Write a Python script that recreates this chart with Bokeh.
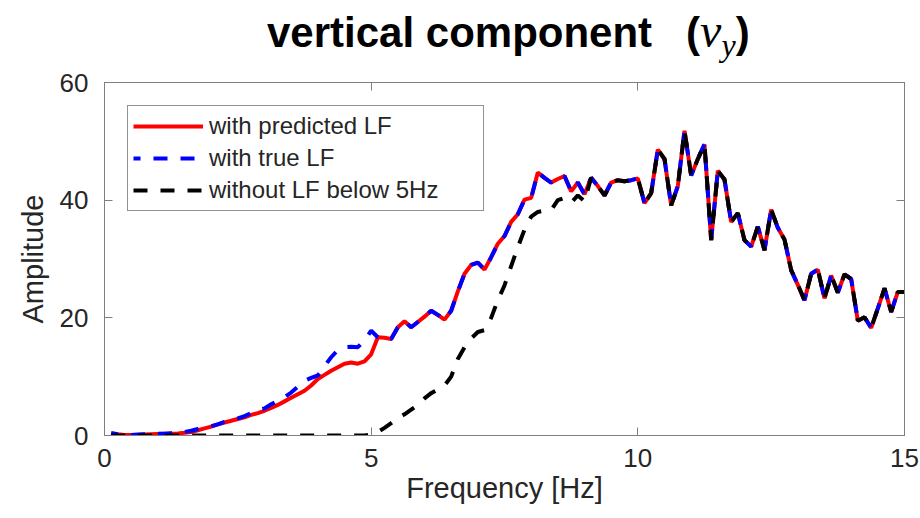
from bokeh.plotting import figure
from bokeh.models import Range1d, LinearAxis, Legend, LegendItem, Div
from bokeh.layouts import column
from bokeh.embed import file_html
from bokeh.resources import INLINE

# ---------------- data ----------------
freq_hz = [
    0.125, 0.25, 0.375, 0.5, 0.625, 0.75, 0.875, 1.0, 1.125, 1.25,
    1.375, 1.5, 1.625, 1.75, 1.875, 2.0, 2.125, 2.25, 2.375, 2.5,
    2.625, 2.75, 2.875, 3.0, 3.125, 3.25, 3.375, 3.5, 3.625, 3.75,
    3.875, 4.0, 4.125, 4.25, 4.375, 4.5, 4.625, 4.75, 4.875, 5.0,
    5.125, 5.25, 5.375, 5.5, 5.625, 5.75, 5.875, 6.0, 6.125, 6.25,
    6.375, 6.5, 6.625, 6.75, 6.875, 7.0, 7.125, 7.25, 7.375, 7.5,
    7.625, 7.75, 7.875, 8.0, 8.125, 8.25, 8.375, 8.5, 8.625, 8.75,
    8.875, 9.0, 9.125, 9.25, 9.375, 9.5, 9.625, 9.75, 9.875, 10.0,
    10.125, 10.25, 10.375, 10.5, 10.625, 10.75, 10.875, 11.0, 11.125, 11.25,
    11.375, 11.5, 11.625, 11.75, 11.875, 12.0, 12.125, 12.25, 12.375, 12.5,
    12.625, 12.75, 12.875, 13.0, 13.125, 13.25, 13.375, 13.5, 13.625, 13.75,
    13.875, 14.0, 14.125, 14.25, 14.375, 14.5, 14.625, 14.75, 14.875, 15.0,
]

amp_predicted_lf = [
    0.4, 0.2, 0.1, 0.1, 0.1, 0.15, 0.2, 0.25, 0.3, 0.3,
    0.35, 0.45, 0.6, 0.9, 1.2, 1.5, 1.9, 2.2, 2.5, 2.8,
    3.1, 3.5, 3.8, 4.2, 4.7, 5.2, 5.8, 6.4, 7.0, 7.6,
    8.5, 9.6, 10.3, 11.0, 11.6, 12.2, 12.4, 12.2, 12.6, 13.8,
    16.7, 16.6, 16.4, 18.4, 19.4, 18.4, 19.3, 20.2, 21.2, 20.5,
    19.7, 21.2, 24.5, 27.5, 29.0, 29.4, 28.2, 30.3, 32.6, 33.9,
    36.3, 37.6, 40.1, 40.4, 44.7, 43.8, 43.0, 43.6, 44.1, 41.5,
    43.0, 41.0, 43.8, 42.4, 40.8, 43.0, 43.4, 43.2, 43.4, 43.7,
    39.5, 41.2, 48.6, 47.0, 39.1, 42.4, 51.8, 44.2, 47.0, 49.5,
    33.2, 45.0, 43.5, 36.3, 37.8, 33.2, 32.1, 35.5, 31.5, 38.4,
    35.3, 33.3, 28.1, 25.6, 23.0, 27.5, 28.2, 23.3, 27.2, 24.3,
    27.4, 26.6, 19.5, 20.1, 18.3, 21.6, 25.0, 21.0, 24.4, 24.4,
]

# "with true LF" differs from the prediction only up to 5 Hz
amp_true_lf_to_5hz = [
    0.4, 0.2, 0.1, 0.1, 0.15, 0.2, 0.2, 0.3, 0.3, 0.4,
    0.45, 0.6, 0.8, 1.1, 1.4, 1.6, 1.9, 2.3, 2.6, 2.9,
    3.3, 3.8, 4.3, 4.6, 5.3, 5.9, 6.5, 7.3, 8.3, 9.3,
    9.8, 10.2, 11.8, 13.3, 14.5, 15.0, 15.1, 15.0, 16.2, 17.8,
]

# "without LF below 5Hz" differs from the prediction up to 9 Hz
amp_without_lf_to_9hz = [
    0.0, 0.0, 0.0, 0.0, 0.0, 0.0, 0.0, 0.0, 0.0, 0.0,
    0.0, 0.0, 0.0, 0.0, 0.0, 0.0, 0.0, 0.0, 0.0, 0.0,
    0.0, 0.0, 0.0, 0.0, 0.0, 0.0, 0.0, 0.0, 0.0, 0.0,
    0.0, 0.0, 0.0, 0.0, 0.0, 0.0, 0.0, 0.0, 0.0, 0.2,
    0.6, 1.3, 2.1, 3.0, 3.6, 4.4, 5.2, 6.3, 7.2, 7.8,
    8.5, 10.0, 13.0, 15.0, 16.5, 17.6, 17.9, 20.0, 23.0, 25.5,
    28.8, 32.0, 35.0, 37.2, 38.0, 38.2, 38.3, 40.0, 40.4, 39.6,
    40.8, 39.8,
]

amp_true_lf = amp_true_lf_to_5hz + amp_predicted_lf[len(amp_true_lf_to_5hz):]
amp_without_lf = amp_without_lf_to_9hz + amp_predicted_lf[len(amp_without_lf_to_9hz):]

x_ticks = [0, 5, 10, 15]
y_ticks = [0, 20, 40, 60]
series_labels = ["with predicted LF", "with true LF", "without LF below 5Hz"]

# ---------------- figure ----------------
AXIS_GRAY = "#7f7f7f"
TEXT = "#262626"
FONT = "Liberation Sans"
TITLE_H = 64

p = figure(width=920, height=518 - TITLE_H, output_backend="svg", toolbar_location=None,
           x_range=Range1d(0, 15), y_range=Range1d(0, 60),
           min_border_left=104, min_border_right=16,
           min_border_top=82 - TITLE_H, min_border_bottom=83, margin=0)
p.grid.visible = False
p.outline_line_color = AXIS_GRAY
p.background_fill_color = "white"
p.border_fill_color = "white"

for ax in (p.xaxis[0], p.yaxis[0]):
    ax.major_tick_in = 8
    ax.major_tick_out = 0
    ax.minor_tick_line_color = None
    ax.axis_line_color = AXIS_GRAY
    ax.major_tick_line_color = AXIS_GRAY
    ax.major_label_text_font = FONT
    ax.major_label_text_font_size = "26px"
    ax.major_label_text_color = TEXT
    ax.axis_label_text_font = FONT
    ax.axis_label_text_font_size = "29px"
    ax.axis_label_text_font_style = "normal"
    ax.axis_label_text_color = TEXT

p.xaxis.ticker = x_ticks
p.yaxis.ticker = y_ticks
p.xaxis.axis_label = "Frequency [Hz]"
p.yaxis.axis_label = "Amplitude"
p.xaxis.major_label_standoff = 13
p.yaxis.major_label_standoff = 16
p.xaxis.axis_label_standoff = 2
p.yaxis.axis_label_standoff = 8

# box ticks on top and right (no labels)
top_axis = LinearAxis(ticker=x_ticks, major_tick_in=8, major_tick_out=0,
                      minor_tick_line_color=None, axis_line_color=AXIS_GRAY,
                      major_tick_line_color=AXIS_GRAY,
                      major_label_overrides={t: "" for t in x_ticks},
                      major_label_standoff=0)
right_axis = LinearAxis(ticker=y_ticks, major_tick_in=8, major_tick_out=0,
                        minor_tick_line_color=None, axis_line_color=AXIS_GRAY,
                        major_tick_line_color=AXIS_GRAY,
                        major_label_overrides={t: "" for t in y_ticks},
                        major_label_standoff=0)
p.add_layout(top_axis, "above")
p.add_layout(right_axis, "right")

# ---------------- lines ----------------
r_pred = p.line(freq_hz, amp_predicted_lf, line_color="#ff0000", line_width=4)
r_true = p.line(freq_hz, amp_true_lf, line_color="#0000ff", line_width=4,
                line_dash="14 13", line_dash_offset=7)
r_wo = p.line(freq_hz, amp_without_lf, line_color="#000000", line_width=4,
              line_dash="14 13")

legend = Legend(items=[LegendItem(label=series_labels[0], renderers=[r_pred]),
                       LegendItem(label=series_labels[1], renderers=[r_true]),
                       LegendItem(label=series_labels[2], renderers=[r_wo])],
                location="top_left", margin=23, padding=5, spacing=2,
                glyph_width=70, glyph_height=30, label_height=30,
                label_width=269, label_standoff=6,
                label_text_font=FONT, label_text_font_size="24px",
                label_text_color=TEXT,
                border_line_color=TEXT, border_line_width=1,
                background_fill_color="white", background_fill_alpha=1.0)
p.add_layout(legend)

# ---------------- title: vertical component  (v_y) ----------------
title_html = (
    "<div style=\"padding:6px 0 0 267px; margin:0; white-space:nowrap; "
    "font-family:'Liberation Sans'; font-weight:bold; font-size:42px; "
    "line-height:50px; color:#000;\">vertical component"
    "<span style=\"display:inline-block; width:34px;\"></span>("
    "<span style=\"font-family:'Liberation Serif'; font-style:italic; "
    "font-weight:normal; font-size:48px;\">v</span>"
    "<span style=\"font-family:'Liberation Serif'; font-style:italic; "
    "font-weight:normal; font-size:32px; position:relative; top:9px;\">y</span>)"
    "</div>"
)
title = Div(text=title_html, width=920, height=TITLE_H, margin=0)

layout = column(title, p, spacing=0, margin=0)
open("out.html", "w").write(file_html(layout, INLINE))
